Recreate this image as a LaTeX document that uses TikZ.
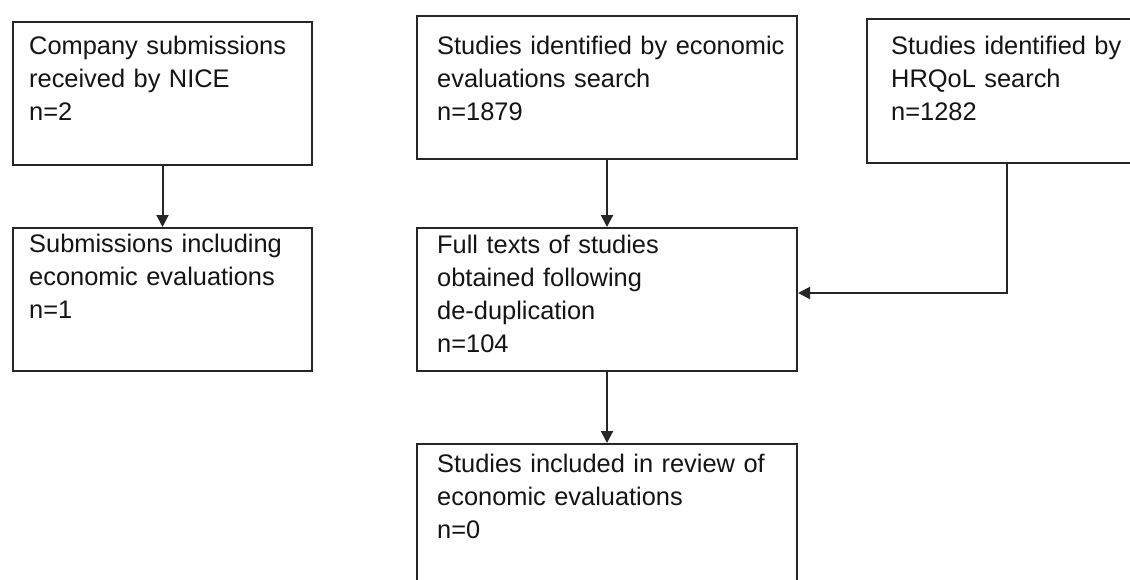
\documentclass[tikz,border=0pt]{standalone}
\usepackage{fontspec}
\setmainfont{Liberation Sans}
\usetikzlibrary{arrows.meta}
\begin{document}
\begin{tikzpicture}[x=1pt,y=-1pt,
  boxnode/.style={draw=black!85, line width=2pt, rectangle, inner sep=0pt, anchor=north west},
  txt/.style={anchor=base west, inner sep=0pt, text width=370pt, align=left, text=black!92,
    font=\fontsize{25.4}{33}\selectfont},
  conn/.style={draw=black!85, line width=2pt},
  arr/.style={conn, -{Triangle[length=12pt,width=12pt]}}]
\useasboundingbox (0,0) rectangle (1130,579);
\clip (0,0) rectangle (1130,579);
\fill[white] (0,0) rectangle (1130,579);
% boxes
\node[boxnode, minimum width=299pt, minimum height=143pt] (b1) at (12,21) {};
\node[boxnode, minimum width=299pt, minimum height=143pt] (b2) at (12,227) {};
\node[boxnode, minimum width=380pt, minimum height=143pt] (b3) at (416,15) {};
\node[boxnode, minimum width=290pt, minimum height=144pt] (b4) at (866,18) {};
\node[boxnode, minimum width=380pt, minimum height=143pt] (b5) at (416,227) {};
\node[boxnode, minimum width=380pt, minimum height=170pt] (b6) at (416,443) {};
% texts
\node[txt] (t1) at (29,54) {Company submissions\\received by NICE\\n=2};
\node[txt] (t2) at (29,252) {Submissions including\\economic evaluations\\n=1};
\node[txt] (t3) at (437,54) {Studies identified by economic\\evaluations search\\n=1879};
\node[txt] (t4) at (891,54) {Studies identified by\\HRQoL search\\n=1282};
\node[txt] (t5) at (437,253) {Full texts of studies\\obtained following\\de-duplication\\n=104};
\node[txt] (t6) at (437,472) {Studies included in review of\\economic evaluations\\n=0};
% connectors
\coordinate (turn) at (1007,293);
\draw[arr] (b1.south) -- (b2.north);
\draw[arr] (b3.south) -- (b5.north);
\draw[arr] (b5.south) -- (b6.north);
\draw[arr] (b4.south -| turn) -- (turn) -- (b5.east |- turn);
\end{tikzpicture}
\end{document}
